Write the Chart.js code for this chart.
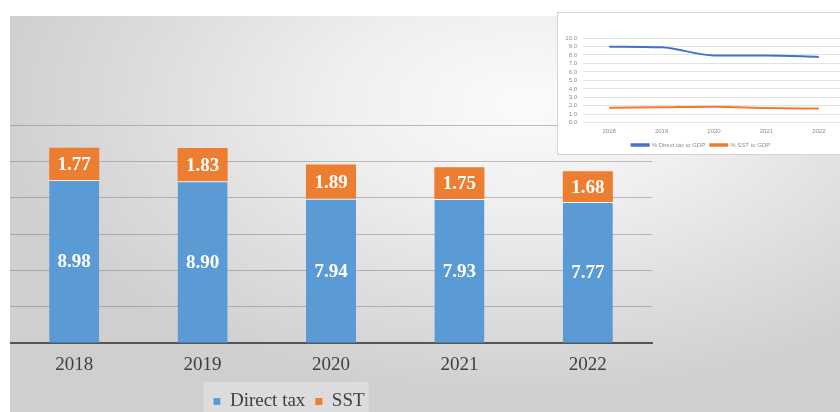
<!DOCTYPE html>
<html>
<head>
<meta charset="utf-8">
<script src="https://cdn.jsdelivr.net/npm/chart.js@4.4.0/dist/chart.umd.min.js"></script>
<style>
  html, body { margin: 0; padding: 0; background: #ffffff; width: 840px; height: 412px; overflow: hidden; }
  #stage { position: relative; width: 840px; height: 412px; overflow: hidden; }
  #panel {
    position: absolute; left: 10px; top: 16px; width: 830px; height: 396px;
    background: radial-gradient(ellipse 65% 75% at 62% 22%, #fbfbfb 0%, #efefef 35%, #dddddd 70%, #cfcfcf 100%);
  }
  #main { position: absolute; left: 10px; top: 16px; }
  #insetBox {
    position: absolute; left: 557px; top: 12px; width: 300px; height: 143px;
    background: #ffffff; border: 1px solid #d4d4d4; box-sizing: border-box; overflow: hidden;
  }
  #inset { position: absolute; left: -1px; top: -1px; filter: blur(0.5px); }
</style>
</head>
<body>
<div id="stage">
  <div id="panel"></div>
  <canvas id="main" width="830" height="405"></canvas>
  <div id="insetBox"><canvas id="inset" width="300" height="146"></canvas></div>
</div>
<script>
// Tax revenue as a share of GDP (%)
const years = ['2018', '2019', '2020', '2021', '2022'];
const directTax = [8.98, 8.90, 7.94, 7.93, 7.77];
const sst = [1.77, 1.83, 1.89, 1.75, 1.68];

const BLUE = '#5B9BD5';
const ORANGE = '#ED7D31';
const SERIF = '"Liberation Serif", "Times New Roman", serif';

// White value labels centred inside each bar segment
const barValueLabels = {
  id: 'barValueLabels',
  afterDatasetsDraw(chart) {
    const ctx = chart.ctx;
    ctx.save();
    ctx.font = 'bold 19px ' + SERIF;
    ctx.fillStyle = '#ffffff';
    ctx.textAlign = 'center';
    ctx.textBaseline = 'middle';
    chart.data.datasets.forEach((ds, i) => {
      chart.getDatasetMeta(i).data.forEach((bar, j) => {
        const p = bar.getProps(['x', 'y', 'base'], true);
        ctx.fillText(ds.data[j].toFixed(2), p.x, (p.y + p.base) / 2 + 1);
      });
    });
    ctx.restore();
  }
};

// Moves the legend to a chosen horizontal centre and paints a soft box behind it
const legendPlacement = {
  id: 'legendPlacement',
  afterLayout(chart, args, opts) {
    const lg = chart.legend;
    if (!lg) return;
    const d = opts.centerX - (lg.left + lg.right) / 2;
    lg.left += d;
    lg.right += d;
  },
  beforeDraw(chart) {
    const lg = chart.legend;
    if (!lg || !lg.legendHitBoxes || !lg.legendHitBoxes.length) return;
    const boxes = lg.legendHitBoxes;
    const minX = Math.min(...boxes.map(b => b.left));
    const maxX = Math.max(...boxes.map(b => b.left + b.width));
    const top = boxes[0].top;
    const h = boxes[0].height;
    const ctx = chart.ctx;
    ctx.save();
    ctx.fillStyle = 'rgba(255,255,255,0.28)';
    ctx.fillRect(minX - 10, top - 10, maxX - minX + 14, h + 20);
    ctx.restore();
  }
};

new Chart(document.getElementById('main'), {
  type: 'bar',
  data: {
    labels: years,
    datasets: [
      {
        label: 'Direct tax',
        data: directTax,
        backgroundColor: BLUE,
        borderColor: 'rgba(255,255,255,0.55)',
        borderWidth: { top: 1, left: 0, right: 0, bottom: 0 },
        borderSkipped: false,
        barPercentage: 0.39,
        categoryPercentage: 1.0
      },
      {
        label: 'SST',
        data: sst,
        backgroundColor: ORANGE,
        barPercentage: 0.39,
        categoryPercentage: 1.0
      }
    ]
  },
  options: {
    responsive: false,
    animation: false,
    layout: { padding: { top: 109, right: 188, bottom: 0, left: 0 } },
    scales: {
      x: {
        stacked: true,
        grid: { display: true, color: 'transparent', drawTicks: false },
        border: { display: true, color: '#555555', width: 2 },
        ticks: { font: { family: SERIF, size: 19 }, color: '#404040', padding: 10 },
        afterFit(s) { s.height -= 4; }
      },
      y: {
        stacked: true,
        min: 0,
        max: 12,
        ticks: { display: false, stepSize: 2 },
        grid: { color: 'rgba(130,130,130,0.5)', lineWidth: 1, drawTicks: false },
        border: { display: false }
      }
    },
    plugins: {
      legend: {
        position: 'bottom',
        labels: {
          boxWidth: 7,
          boxHeight: 7,
          padding: 10,
          font: { family: SERIF, size: 19 },
          color: '#404040'
        }
      },
      legendPlacement: { centerX: 279 },
      tooltip: { enabled: false }
    }
  },
  plugins: [barValueLabels, legendPlacement]
});

// Small trend chart of the same two shares
new Chart(document.getElementById('inset'), {
  type: 'line',
  data: {
    labels: years,
    datasets: [
      {
        label: '% Direct tax to GDP',
        data: directTax,
        borderColor: '#4472C4',
        backgroundColor: '#4472C4',
        borderWidth: 2,
        pointRadius: 0,
        cubicInterpolationMode: 'monotone'
      },
      {
        label: '% SST to GDP',
        data: sst,
        borderColor: ORANGE,
        backgroundColor: ORANGE,
        borderWidth: 2,
        pointRadius: 0,
        cubicInterpolationMode: 'monotone'
      }
    ]
  },
  options: {
    responsive: false,
    animation: false,
    layout: { padding: { top: 26, right: 12, bottom: 0, left: 0 } },
    scales: {
      x: {
        offset: true,
        grid: { display: false, drawTicks: false },
        border: { display: false },
        ticks: { font: { size: 6 }, color: '#8c8c8c', padding: 5, maxRotation: 0, autoSkip: false },
        afterFit(s) { s.height -= 3; }
      },
      y: {
        min: 0,
        max: 10,
        ticks: { stepSize: 1, autoSkip: false, callback: v => v.toFixed(1), font: { size: 6 }, color: '#8c8c8c', padding: 6 },
        grid: { color: '#e2e2e2', drawTicks: false },
        border: { display: false },
        afterFit(s) { s.width = 26; }
      }
    },
    plugins: {
      legend: {
        position: 'bottom',
        labels: { boxWidth: 17, boxHeight: 1.5, padding: 5, font: { size: 6 }, color: '#8c8c8c' }
      },
      tooltip: { enabled: false }
    }
  }
});
</script>
</body>
</html>
